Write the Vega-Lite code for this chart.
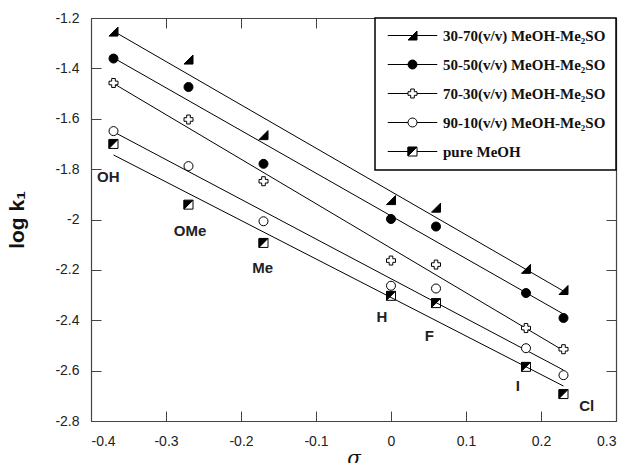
{
  "$schema": "https://vega.github.io/schema/vega-lite/v6.json",
  "width": 525,
  "height": 403,
  "autosize": {"type": "none"},
  "padding": {"left": 91, "top": 18, "right": 14, "bottom": 42},
  "background": "white",
  "config": {
    "view": {"stroke": null},
    "axis": {
      "grid": false,
      "domainColor": "#444",
      "domainWidth": 1.2,
      "tickColor": "#444",
      "tickWidth": 1,
      "tickSize": -10,
      "labelFont": "Liberation Sans",
      "labelFontSize": 14,
      "labelColor": "#222",
      "labelExpr": "toString(datum.value)"
    },
    "legend": {
      "title": null,
      "orient": "top-right",
      "offset": 0,
      "padding": 10,
      "fillColor": "white",
      "strokeColor": "black",
      "strokeWidth": 1.5,
      "labelFont": "Liberation Serif",
      "labelFontWeight": "bold",
      "labelFontSize": 15,
      "labelColor": "#111",
      "labelOffset": 23,
      "symbolOffset": 20,
      "labelLimit": 400,
      "rowPadding": 13,
      "symbolSize": 81,
      "symbolStrokeWidth": 1,
      "symbolStrokeColor": "black"
    }
  },
  "datasets": {
    "pts": [
      {"s": "30-70(v/v) MeOH-Me₂SO", "sigma": -0.37, "logk": -1.254},
      {"s": "30-70(v/v) MeOH-Me₂SO", "sigma": -0.27, "logk": -1.365},
      {"s": "30-70(v/v) MeOH-Me₂SO", "sigma": -0.17, "logk": -1.665},
      {"s": "30-70(v/v) MeOH-Me₂SO", "sigma": 0.0, "logk": -1.923},
      {"s": "30-70(v/v) MeOH-Me₂SO", "sigma": 0.06, "logk": -1.953},
      {"s": "30-70(v/v) MeOH-Me₂SO", "sigma": 0.18, "logk": -2.196},
      {"s": "30-70(v/v) MeOH-Me₂SO", "sigma": 0.23, "logk": -2.28},
      {"s": "50-50(v/v) MeOH-Me₂SO", "sigma": -0.37, "logk": -1.361},
      {"s": "50-50(v/v) MeOH-Me₂SO", "sigma": -0.27, "logk": -1.474},
      {"s": "50-50(v/v) MeOH-Me₂SO", "sigma": -0.17, "logk": -1.779},
      {"s": "50-50(v/v) MeOH-Me₂SO", "sigma": 0.0, "logk": -1.998},
      {"s": "50-50(v/v) MeOH-Me₂SO", "sigma": 0.06, "logk": -2.028},
      {"s": "50-50(v/v) MeOH-Me₂SO", "sigma": 0.18, "logk": -2.292},
      {"s": "50-50(v/v) MeOH-Me₂SO", "sigma": 0.23, "logk": -2.391},
      {"s": "70-30(v/v) MeOH-Me₂SO", "sigma": -0.37, "logk": -1.458},
      {"s": "70-30(v/v) MeOH-Me₂SO", "sigma": -0.27, "logk": -1.603},
      {"s": "70-30(v/v) MeOH-Me₂SO", "sigma": -0.17, "logk": -1.848},
      {"s": "70-30(v/v) MeOH-Me₂SO", "sigma": 0.0, "logk": -2.163},
      {"s": "70-30(v/v) MeOH-Me₂SO", "sigma": 0.06, "logk": -2.179},
      {"s": "70-30(v/v) MeOH-Me₂SO", "sigma": 0.18, "logk": -2.431},
      {"s": "70-30(v/v) MeOH-Me₂SO", "sigma": 0.23, "logk": -2.515},
      {"s": "90-10(v/v) MeOH-Me₂SO", "sigma": -0.37, "logk": -1.649},
      {"s": "90-10(v/v) MeOH-Me₂SO", "sigma": -0.27, "logk": -1.788},
      {"s": "90-10(v/v) MeOH-Me₂SO", "sigma": -0.17, "logk": -2.007},
      {"s": "90-10(v/v) MeOH-Me₂SO", "sigma": 0.0, "logk": -2.263},
      {"s": "90-10(v/v) MeOH-Me₂SO", "sigma": 0.06, "logk": -2.274},
      {"s": "90-10(v/v) MeOH-Me₂SO", "sigma": 0.18, "logk": -2.511},
      {"s": "90-10(v/v) MeOH-Me₂SO", "sigma": 0.23, "logk": -2.618},
      {"s": "pure MeOH", "sigma": -0.37, "logk": -1.70},
      {"s": "pure MeOH", "sigma": -0.27, "logk": -1.941},
      {"s": "pure MeOH", "sigma": -0.17, "logk": -2.093},
      {"s": "pure MeOH", "sigma": 0.0, "logk": -2.303},
      {"s": "pure MeOH", "sigma": 0.06, "logk": -2.332},
      {"s": "pure MeOH", "sigma": 0.18, "logk": -2.585},
      {"s": "pure MeOH", "sigma": 0.23, "logk": -2.693}
    ],
    "labs": [
      {"label": "OH", "sigma": -0.377, "logk": -1.833},
      {"label": "OMe", "sigma": -0.268, "logk": -2.045},
      {"label": "Me", "sigma": -0.171, "logk": -2.192},
      {"label": "H", "sigma": -0.012, "logk": -2.389},
      {"label": "F", "sigma": 0.051, "logk": -2.462},
      {"label": "I", "sigma": 0.169, "logk": -2.661},
      {"label": "Cl", "sigma": 0.261, "logk": -2.74}
    ]
  },
  "layer": [
    {
      "data": {"name": "pts"},
      "transform": [{"regression": "logk", "on": "sigma", "groupby": ["s"]}],
      "mark": {"type": "line", "color": "black", "strokeWidth": 1},
      "encoding": {
        "x": {
          "field": "sigma", "type": "quantitative",
          "scale": {"domain": [-0.4, 0.3], "nice": false, "zero": false},
          "axis": {
            "orient": "bottom",
            "values": [-0.4, -0.3, -0.2, -0.1, 0, 0.1, 0.2, 0.3],
            "labelPadding": 23,
            "title": "σ",
            "titleFont": "DejaVu Serif",
            "titleFontStyle": "italic",
            "titleFontWeight": "normal",
            "titleFontSize": 20,
            "titleColor": "#111",
            "titlePadding": 0
          }
        },
        "y": {
          "field": "logk", "type": "quantitative",
          "scale": {"domain": [-2.8, -1.2], "nice": false, "zero": false},
          "axis": {
            "orient": "left",
            "values": [-2.8, -2.6, -2.4, -2.2, -2, -1.8, -1.6, -1.4, -1.2],
            "labelPadding": 22,
            "title": "log k₁",
            "titleFont": "Liberation Sans",
            "titleFontWeight": "bold",
            "titleFontSize": 21,
            "titleColor": "#111",
            "titlePadding": 27
          }
        },
        "detail": {"field": "s"}
      }
    },
    {
      "data": {"name": "pts"},
      "mark": {"type": "point", "filled": true, "stroke": "black", "strokeWidth": 1, "size": 81, "opacity": 1},
      "encoding": {
        "x": {
          "field": "sigma", "type": "quantitative",
          "axis": {"orient": "top", "values": [-0.4, -0.3, -0.2, -0.1, 0, 0.1, 0.2, 0.3], "labels": false, "title": null}
        },
        "y": {
          "field": "logk", "type": "quantitative",
          "axis": {"orient": "right", "values": [-2.8, -2.6, -2.4, -2.2, -2, -1.8, -1.6, -1.4, -1.2], "labels": false, "title": null}
        },
        "shape": {
          "field": "s", "type": "nominal",
          "scale": {
            "domain": ["30-70(v/v) MeOH-Me₂SO", "50-50(v/v) MeOH-Me₂SO", "70-30(v/v) MeOH-Me₂SO", "90-10(v/v) MeOH-Me₂SO", "pure MeOH"],
            "range": [
              "M1,-1 L1,1 L-1,1 Z",
              "circle",
              "M-1,-0.4 L-0.4,-0.4 L-0.4,-1 L0.4,-1 L0.4,-0.4 L1,-0.4 L1,0.4 L0.4,0.4 L0.4,1 L-0.4,1 L-0.4,0.4 L-1,0.4 Z",
              "circle",
              "M-1,-1 L1,-1 L-1,1 Z M1,-1 L1,1 M1,1 L-1,1 M-1,1 L-1,-1"
            ]
          },
          "legend": null
        },
        "color": {
          "field": "s", "type": "nominal",
          "scale": {
            "domain": ["30-70(v/v) MeOH-Me₂SO", "50-50(v/v) MeOH-Me₂SO", "70-30(v/v) MeOH-Me₂SO", "90-10(v/v) MeOH-Me₂SO", "pure MeOH"],
            "range": ["black", "black", "white", "white", "black"]
          },
          "legend": null
        }
      }
    },
    {
      "data": {"name": "pts"},
      "transform": [{"filter": "datum.sigma > 5"}],
      "mark": {"type": "point", "filled": true, "stroke": "black", "strokeWidth": 1, "size": 81, "opacity": 1},
      "encoding": {
        "x": {"field": "sigma", "type": "quantitative", "axis": null},
        "y": {"field": "logk", "type": "quantitative", "axis": null},
        "shape": {
          "field": "s", "type": "nominal",
          "scale": {
            "domain": ["30-70(v/v) MeOH-Me₂SO", "50-50(v/v) MeOH-Me₂SO", "70-30(v/v) MeOH-Me₂SO", "90-10(v/v) MeOH-Me₂SO", "pure MeOH"],
            "range": [
              "M-5.5,0 L5.5,0 M1,-1 L1,1 L-1,1 Z",
              "M-5.5,0 L5.5,0 M1,0 A1,1 0 1,1 -1,0 A1,1 0 1,1 1,0 Z",
              "M-5.5,0 L-1,0 M1,0 L5.5,0 M-1,-0.4 L-0.4,-0.4 L-0.4,-1 L0.4,-1 L0.4,-0.4 L1,-0.4 L1,0.4 L0.4,0.4 L0.4,1 L-0.4,1 L-0.4,0.4 L-1,0.4 Z",
              "M-5.5,0 L-1,0 M1,0 L5.5,0 M1,0 A1,1 0 1,1 -1,0 A1,1 0 1,1 1,0 Z",
              "M-5.5,0 L-1,0 M1,0 L5.5,0 M-1,-1 L1,-1 L-1,1 Z M1,-1 L1,1 M1,1 L-1,1 M-1,1 L-1,-1"
            ]
          },
          "legend": {}
        },
        "color": {
          "field": "s", "type": "nominal",
          "scale": {
            "domain": ["30-70(v/v) MeOH-Me₂SO", "50-50(v/v) MeOH-Me₂SO", "70-30(v/v) MeOH-Me₂SO", "90-10(v/v) MeOH-Me₂SO", "pure MeOH"],
            "range": ["black", "black", "white", "white", "black"]
          },
          "legend": {}
        }
      }
    },
    {
      "data": {"name": "labs"},
      "mark": {"type": "text", "font": "Liberation Sans", "fontWeight": "bold", "fontSize": 15, "color": "#222"},
      "encoding": {
        "x": {"field": "sigma", "type": "quantitative", "axis": null},
        "y": {"field": "logk", "type": "quantitative", "axis": null},
        "text": {"field": "label"}
      }
    }
  ],
  "resolve": {
    "scale": {"shape": "independent", "color": "independent"},
    "axis": {"x": "independent", "y": "independent"},
    "legend": {"shape": "independent", "color": "independent"}
  }
}
